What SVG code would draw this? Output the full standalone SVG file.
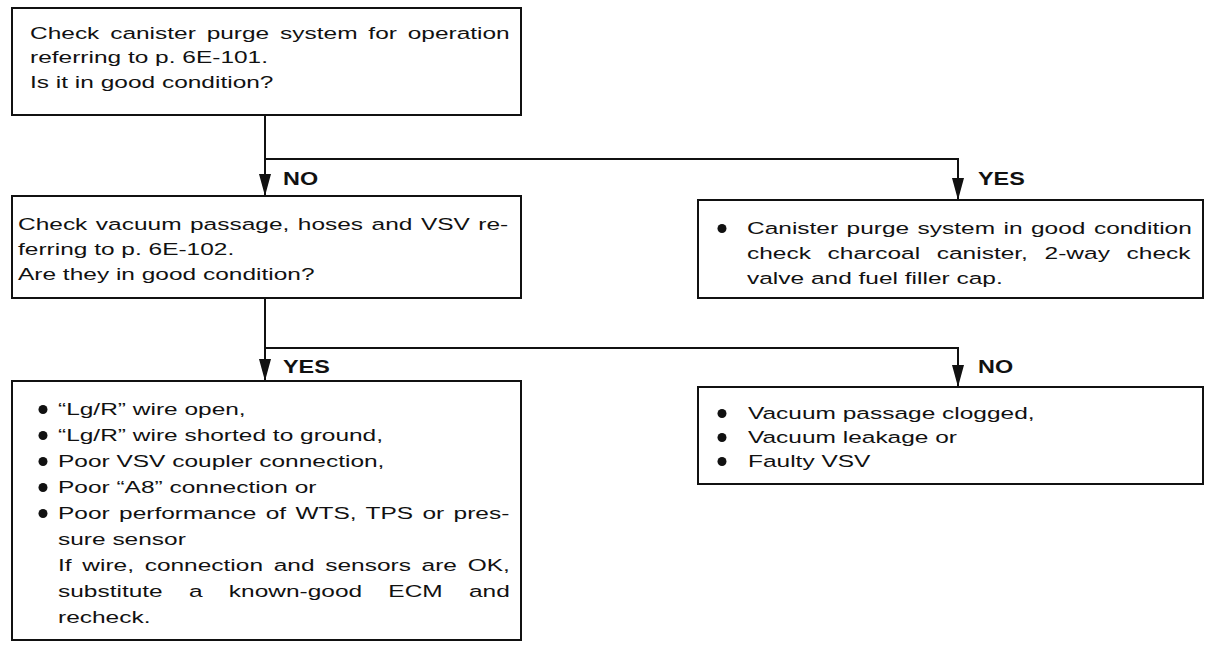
<svg xmlns="http://www.w3.org/2000/svg" width="1215" height="650" viewBox="0 0 1215 650">
<style>
.box{fill:#fff;stroke:#111;stroke-width:2}
.t{font-family:"Liberation Sans",Arial,sans-serif;font-size:17px;fill:#111}
.lbl{font-family:"Liberation Sans",Arial,sans-serif;font-size:18px;font-weight:bold;fill:#111}
.conn{fill:none;stroke:#111;stroke-width:2}
.dot{fill:#111}
</style>
<defs>
<marker id="arrow" viewBox="0 0 22 12" refX="22" refY="6" markerWidth="22" markerHeight="12" markerUnits="userSpaceOnUse" orient="auto">
<path d="M0,0 L22,6 L0,12 z" fill="#111"/>
</marker>
</defs>
<rect width="1215" height="650" fill="#fff"/>
<g id="connectors">
<path class="conn" d="M265,115 V196" marker-end="url(#arrow)"/>
<path class="conn" d="M265,159 H958 V200" marker-end="url(#arrow)"/>
<path class="conn" d="M265,298 V381" marker-end="url(#arrow)"/>
<path class="conn" d="M265,348 H958 V387" marker-end="url(#arrow)"/>
<text class="lbl" transform="translate(283,185) scale(1.3,1)">NO</text>
<text class="lbl" transform="translate(978,185) scale(1.3,1)">YES</text>
<text class="lbl" transform="translate(283,373) scale(1.3,1)">YES</text>
<text class="lbl" transform="translate(978,373) scale(1.3,1)">NO</text>
</g>
<g id="node1">
<rect class="box" x="12" y="8" width="509" height="107"/>
<text class="t" transform="translate(30,0) scale(1.44,1)">
<tspan x="0" y="39" word-spacing="2.79">Check canister purge system for operation</tspan>
<tspan x="0" y="63">referring to p. 6E-101.</tspan>
<tspan x="0" y="88">Is it in good condition?</tspan>
</text>
</g>
<g id="node2">
<rect class="box" x="12" y="196" width="509" height="102"/>
<text class="t" transform="translate(18,0) scale(1.44,1)">
<tspan x="0" y="230" word-spacing="1.18">Check vacuum passage, hoses and VSV re-</tspan>
<tspan x="0" y="255">ferring to p. 6E-102.</tspan>
<tspan x="0" y="280">Are they in good condition?</tspan>
</text>
</g>
<g id="node3">
<rect class="box" x="698" y="200" width="505" height="98"/>
<circle class="dot" cx="722" cy="228.5" r="4.5"/>
<text class="t" transform="translate(747,0) scale(1.44,1)">
<tspan x="0" y="234" word-spacing="1.15">Canister purge system in good condition</tspan>
<tspan x="0" y="259" word-spacing="6.875">check charcoal canister, 2-way check</tspan>
<tspan x="0" y="284">valve and fuel filler cap.</tspan>
</text>
</g>
<g id="node4">
<rect class="box" x="12" y="381" width="509" height="259"/>
<circle class="dot" cx="43" cy="409.5" r="4.5"/>
<circle class="dot" cx="43" cy="435.5" r="4.5"/>
<circle class="dot" cx="43" cy="461.5" r="4.5"/>
<circle class="dot" cx="43" cy="487.5" r="4.5"/>
<circle class="dot" cx="43" cy="513.5" r="4.5"/>
<text class="t" transform="translate(58,0) scale(1.44,1)">
<tspan x="0" y="415">“Lg/R” wire open,</tspan>
<tspan x="0" y="441">“Lg/R” wire shorted to ground,</tspan>
<tspan x="0" y="467">Poor VSV coupler connection,</tspan>
<tspan x="0" y="493">Poor “A8” connection or</tspan>
<tspan x="0" y="519" word-spacing="1.77">Poor performance of WTS, TPS or pres-</tspan>
<tspan x="0" y="545">sure sensor</tspan>
<tspan x="0" y="571" word-spacing="2.71">If wire, connection and sensors are OK,</tspan>
<tspan x="0" y="597" word-spacing="13.5">substitute a known-good ECM and</tspan>
<tspan x="0" y="623">recheck.</tspan>
</text>
</g>
<g id="node5">
<rect class="box" x="698" y="387" width="505" height="97"/>
<circle class="dot" cx="722" cy="413.5" r="4.5"/>
<circle class="dot" cx="722" cy="437.5" r="4.5"/>
<circle class="dot" cx="722" cy="461.5" r="4.5"/>
<text class="t" transform="translate(748,0) scale(1.44,1)">
<tspan x="0" y="419">Vacuum passage clogged,</tspan>
<tspan x="0" y="443">Vacuum leakage or</tspan>
<tspan x="0" y="467">Faulty VSV</tspan>
</text>
</g>
</svg>
